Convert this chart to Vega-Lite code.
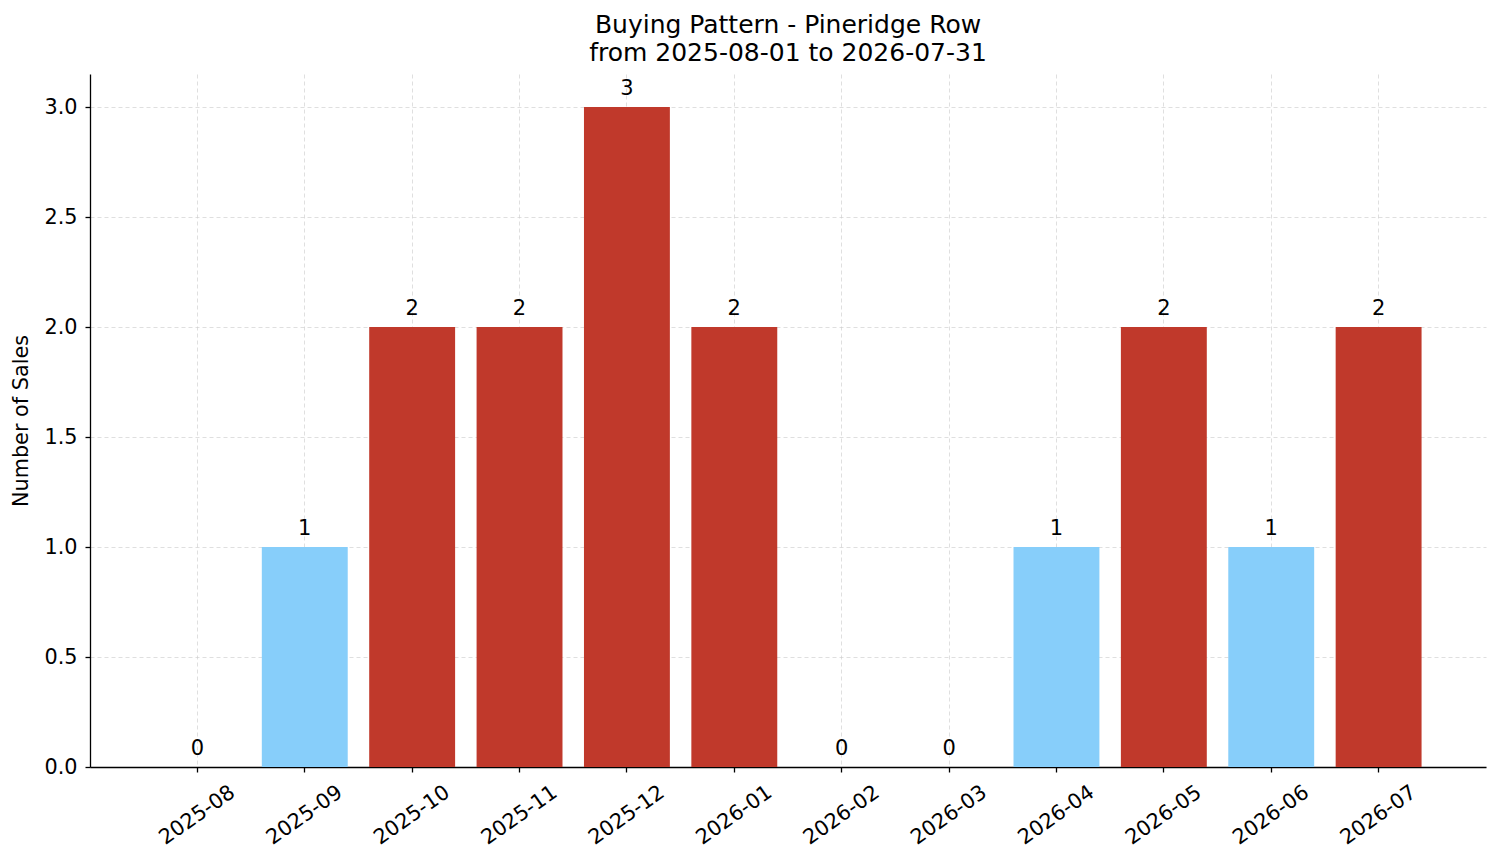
{
  "$schema": "https://vega.github.io/schema/vega-lite/v6.json",
  "autosize": {"type": "none"},
  "padding": {"left": 90, "top": 74, "right": 15, "bottom": 96},
  "width": 1396,
  "height": 693,
  "config": {
    "view": {"stroke": null},
    "font": "DejaVu Sans",
    "axis": {
      "labelFont": "DejaVu Sans",
      "titleFont": "DejaVu Sans",
      "labelFontSize": 20.8,
      "labelColor": "#000000",
      "titleFontSize": 20.8,
      "titleFontWeight": "normal",
      "titleColor": "#000000",
      "domainColor": "#000000",
      "domainWidth": 1.3,
      "tickColor": "#000000",
      "tickSize": 5,
      "tickWidth": 1.3,
      "grid": true,
      "gridColor": "#cccccc",
      "gridDash": [4, 3],
      "gridWidth": 0.8,
      "gridOpacity": 0.8
    }
  },
  "title": {
    "text": ["Buying Pattern - Pineridge Row", "from 2025-08-01 to 2026-07-31"],
    "font": "DejaVu Sans",
    "fontSize": 25,
    "fontWeight": "normal",
    "color": "#000000",
    "anchor": "middle",
    "lineHeight": 28,
    "offset": 8
  },
  "data": {
    "values": [
      {"month": "2025-08", "sales": 0},
      {"month": "2025-09", "sales": 1},
      {"month": "2025-10", "sales": 2},
      {"month": "2025-11", "sales": 2},
      {"month": "2025-12", "sales": 3},
      {"month": "2026-01", "sales": 2},
      {"month": "2026-02", "sales": 0},
      {"month": "2026-03", "sales": 0},
      {"month": "2026-04", "sales": 1},
      {"month": "2026-05", "sales": 2},
      {"month": "2026-06", "sales": 1},
      {"month": "2026-07", "sales": 2}
    ]
  },
  "encoding": {
    "x": {
      "field": "month",
      "type": "ordinal",
      "sort": null,
      "title": null,
      "scale": {"paddingInner": 0.2, "paddingOuter": 0.6},
      "axis": {
        "labelAngle": -35,
        "labelAlign": "center",
        "labelBaseline": "middle",
        "labelPadding": 43
      }
    },
    "y": {
      "field": "sales",
      "type": "quantitative",
      "title": "Number of Sales",
      "scale": {"domain": [0, 3.15], "nice": false},
      "axis": {
        "values": [0, 0.5, 1, 1.5, 2, 2.5, 3],
        "format": ".1f",
        "labelPadding": 8,
        "titlePadding": 12
      }
    }
  },
  "layer": [
    {
      "mark": {"type": "bar"},
      "encoding": {
        "color": {
          "condition": {"test": "datum.sales >= 2", "value": "#c0392b"},
          "value": "#87cefa"
        }
      }
    },
    {
      "mark": {"type": "text", "baseline": "alphabetic", "dy": -12, "fontSize": 21, "color": "#000000"},
      "encoding": {
        "text": {"field": "sales", "type": "quantitative"}
      }
    }
  ]
}
